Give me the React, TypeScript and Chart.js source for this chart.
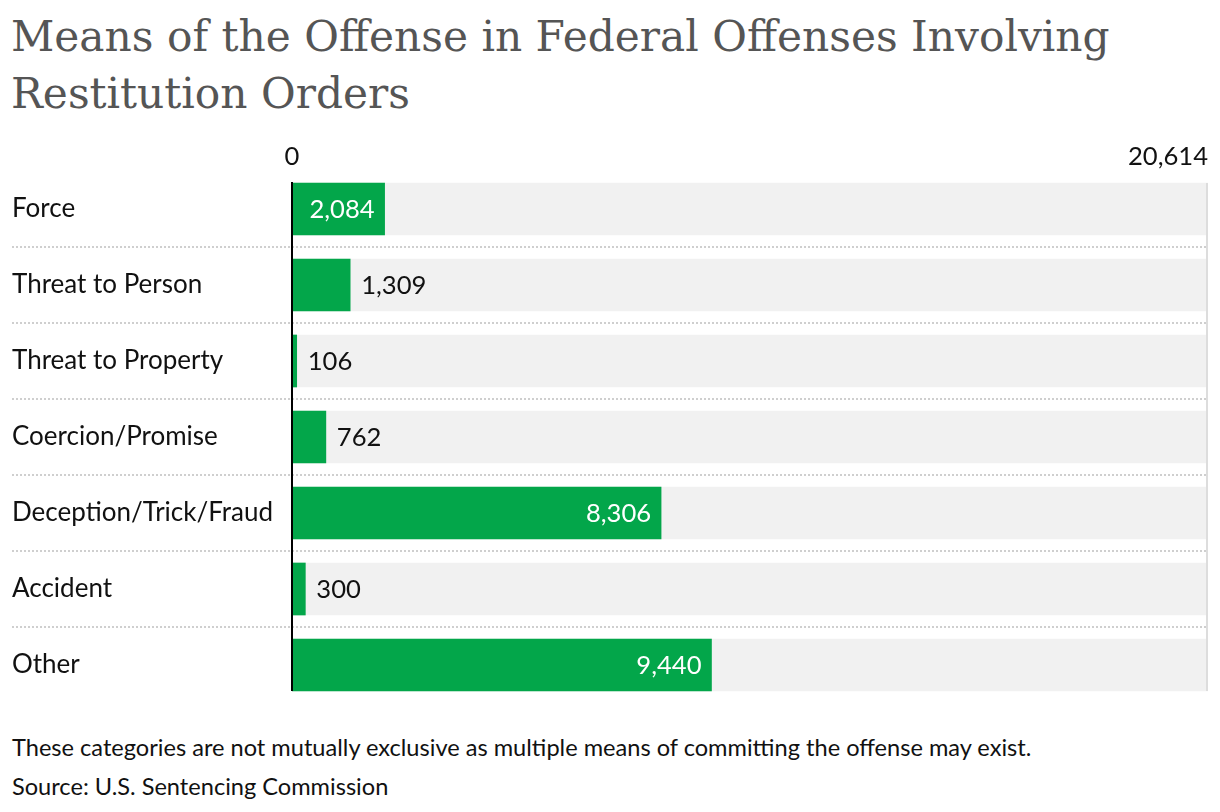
import React, { useEffect, useRef } from "react";
import { Chart, registerables } from "chart.js";
Chart.register(...registerables);

const categories = [
  "Force",
  "Threat to Person",
  "Threat to Property",
  "Coercion/Promise",
  "Deception/Trick/Fraud",
  "Accident",
  "Other",
];
const values = [2084, 1309, 106, 762, 8306, 300, 9440];
const axisMax = 20614;
const axisTicks = [0, 20614];
const totals = categories.map(() => axisMax);

const titleText = "Means of the Offense in Federal Offenses Involving Restitution Orders";
const noteText = "These categories are not mutually exclusive as multiple means of committing the offense may exist.";
const sourceText = "Source: U.S. Sentencing Commission";

const GREEN = "#03a64a";
const fmt = (v: number) => v.toLocaleString("en-US");

const overlayPlugin = {
  id: "overlay",
  afterDatasetsDraw(chart: any) {
    const { ctx, chartArea, scales } = chart;
    const x = scales.x;
    const y = scales.y;
    const meta = chart.getDatasetMeta(0);
    const bars = meta.data;
    ctx.save();
    // separators
    ctx.strokeStyle = "#cfcfcf";
    ctx.lineWidth = 2;
    ctx.setLineDash([2, 2]);
    for (let i = 0; i < categories.length - 1; i++) {
      const yy = (y.getPixelForValue(i) + y.getPixelForValue(i + 1)) / 2;
      ctx.beginPath();
      ctx.moveTo(12, yy);
      ctx.lineTo(x.getPixelForValue(axisMax), yy);
      ctx.stroke();
    }
    ctx.setLineDash([]);
    const first = bars[0];
    const last = bars[bars.length - 1];
    const top = first.y - first.height / 2;
    const bottom = last.y + last.height / 2;
    // right edge line
    ctx.strokeStyle = "#dddddd";
    ctx.lineWidth = 2;
    ctx.beginPath();
    const xr = x.getPixelForValue(axisMax);
    ctx.moveTo(xr - 1, top);
    ctx.lineTo(xr - 1, bottom);
    ctx.stroke();
    // zero line
    ctx.strokeStyle = "#000";
    ctx.lineWidth = 2;
    ctx.beginPath();
    const x0 = x.getPixelForValue(0);
    ctx.moveTo(x0, top - 1);
    ctx.lineTo(x0, bottom);
    ctx.stroke();
    // value labels
    ctx.font = "25.6px Lato";
    ctx.textBaseline = "middle";
    bars.forEach((bar: any, i: number) => {
      const label = fmt(values[i]);
      const w = ctx.measureText(label).width;
      const barW = bar.x - x0;
      if (w + 20 <= barW) {
        ctx.fillStyle = "#ffffff";
        ctx.textAlign = "right";
        ctx.fillText(label, bar.x - 10, bar.y + 1);
      } else {
        ctx.fillStyle = "#111";
        ctx.textAlign = "left";
        ctx.fillText(label, bar.x + 11, bar.y + 1);
      }
    });
    // top tick labels
    ctx.fillStyle = "#111";
    ctx.textBaseline = "middle";
    axisTicks.forEach((t, i) => {
      const px = x.getPixelForValue(t);
      ctx.textAlign = i === axisTicks.length - 1 ? "right" : "center";
      ctx.fillText(fmt(t), px, chartArea.top - 14);
    });
    ctx.restore();
  },
};

export default function App() {
  const ref = useRef<HTMLCanvasElement | null>(null);
  useEffect(() => {
    document.body.style.margin = "0";
    if (!ref.current) return;
    Chart.defaults.font.family = "Lato";
    const chart = new Chart(ref.current, {
      type: "bar",
      data: {
        labels: categories,
        datasets: [
          {
            data: values,
            backgroundColor: GREEN,
            barThickness: 52,
            grouped: false,
          } as any,
          {
            data: totals,
            backgroundColor: "#f1f1f1",
            barThickness: 52,
            grouped: false,
          } as any,
        ],
      },
      options: {
        indexAxis: "y",
        animation: false,
        responsive: true,
        maintainAspectRatio: false,
        layout: { padding: { left: 12, right: 12, top: 31, bottom: 17 } },
        plugins: {
          legend: { display: false },
          tooltip: { enabled: false },
          title: { display: false },
        },
        scales: {
          x: {
            display: false,
            min: 0,
            max: axisMax,
          },
          y: {
            grid: { display: false },
            border: { display: false },
            afterFit: (s: any) => {
              s.width = 280;
            },
            ticks: {
              crossAlign: "far",
              color: "#111",
              padding: 0,
              font: { size: 26, family: "Lato" },
            },
          },
        },
      },
      plugins: [overlayPlugin],
    });
    return () => chart.destroy();
  }, []);

  return (
    <div style={{ position: "relative", width: 1220, height: 812, background: "#fff", overflow: "hidden" }}>
      <div
        style={{
          position: "absolute",
          left: 11,
          top: 8,
          width: 1150,
          fontFamily: "'DejaVu Serif', serif",
          fontSize: 42.3,
          lineHeight: "57px",
          color: "#555555",
        }}
      >
        {titleText}
      </div>
      <div style={{ position: "absolute", left: 0, top: 140, width: 1220, height: 580 }}>
        <canvas ref={ref} />
      </div>
      <div
        style={{
          position: "absolute",
          left: 12,
          top: 728,
          fontFamily: "Lato",
          fontSize: 23.6,
          lineHeight: "39px",
          color: "#111",
        }}
      >
        <div>{noteText}</div>
        <div>{sourceText}</div>
      </div>
    </div>
  );
}
